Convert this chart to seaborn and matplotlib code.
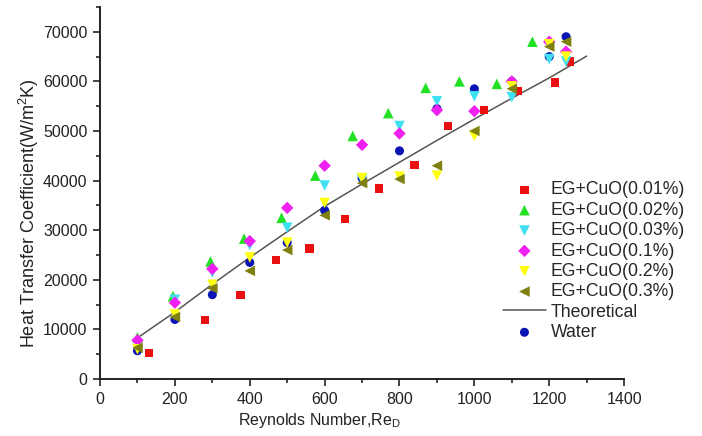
import matplotlib
matplotlib.use("Agg")
import matplotlib.pyplot as plt
import seaborn as sns
from matplotlib.ticker import MultipleLocator

sns.set_theme(style="ticks")
plt.rcParams['font.family'] = ['Liberation Sans', 'DejaVu Sans']

re_a = [100, 200, 300, 400, 500, 600, 700, 800, 900, 1000, 1100, 1200, 1245]
cuo001_x = [130, 280, 375, 470, 560, 655, 745, 840, 930, 1025, 1115, 1215, 1255]
cuo001_y = [5200, 11900, 17000, 24000, 26300, 32200, 38400, 43200, 51000, 54200, 58000, 59800, 64000]
cuo002_x = [100, 195, 295, 385, 485, 575, 675, 770, 870, 960, 1060, 1155]
cuo002_y = [8400, 16700, 23700, 28300, 32500, 41000, 49000, 53600, 58700, 60000, 59500, 68000]
cuo003_y = [7200, 16000, 21500, 27000, 30500, 39000, 40200, 51000, 56000, 57000, 56800, 64500, 64000]
cuo01_y = [7800, 15400, 22200, 27800, 34500, 43000, 47200, 49500, 54200, 54000, 60000, 68000, 66000]
cuo02_y = [6000, 13000, 19000, 24500, 27500, 35500, 40500, 40800, 41000, 49000, 59000, 67500, 65000]
cuo03_y = [6300, 12500, 18300, 21800, 26000, 33000, 39500, 40300, 43000, 50000, 58500, 67000, 68000]
water_y = [5700, 12000, 17000, 23500, 27500, 34000, 40500, 46000, 54500, 58500, 60000, 65000, 69000]

theo_x = [100, 200, 300, 400, 500, 600, 700, 800, 900, 1000, 1100, 1200, 1300]
theo_y = [8300, 13500, 19100, 24500, 29700, 34800, 39300, 43700, 48100, 52400, 56600, 60700, 65100]

labels = ["EG+CuO(0.01%)", "EG+CuO(0.02%)", "EG+CuO(0.03%)", "EG+CuO(0.1%)",
          "EG+CuO(0.2%)", "EG+CuO(0.3%)", "Water"]

fig = plt.figure(figsize=(7.02, 4.36), dpi=100)
ax = fig.add_axes([0.1425, 0.1307, 0.7465, 0.8533])

series = [
    (cuo001_x, cuo001_y, labels[0], "#e81010", "s", 36),
    (cuo002_x, cuo002_y, labels[1], "#22e022", "^", 58),
    (re_a, cuo003_y, labels[2], "#40e0f0", "v", 58),
    (re_a, cuo01_y, labels[3], "#f020f0", "D", 40),
    (re_a, cuo02_y, labels[4], "#ffff10", "v", 58),
    (re_a, cuo03_y, labels[5], "#808010", "<", 58),
]
for xs, ys, lab, col, mk, s in series:
    sns.scatterplot(x=xs, y=ys, ax=ax, color=col, marker=mk, s=s,
                    edgecolor="none", label=lab, zorder=3)

sns.lineplot(x=theo_x, y=theo_y, ax=ax, color="#555555", linewidth=1.1,
             label="Theoretical", zorder=2)
sns.scatterplot(x=re_a, y=water_y, ax=ax, color="#0a14b4", marker="o", s=42,
                edgecolor="none", label=labels[6], zorder=2.5)

ax.set_xlim(0, 1400)
ax.set_ylim(0, 75000)
ax.xaxis.set_major_locator(MultipleLocator(200))
ax.xaxis.set_minor_locator(MultipleLocator(100))
ax.set_yticks(range(0, 70001, 10000))
ax.yaxis.set_minor_locator(MultipleLocator(5000))
ax.tick_params(axis='both', which='major', length=5, width=1.2, labelsize=11.5,
               colors="#222222", direction='out', pad=4)
ax.tick_params(axis='both', which='minor', length=3, width=1.2, direction='out')
for side in ["top", "right"]:
    ax.spines[side].set_visible(False)
for side in ["left", "bottom"]:
    ax.spines[side].set_linewidth(1.4)
    ax.spines[side].set_color("#222222")

ax.set_xlabel("Reynolds Number,Re$_\\mathregular{D}$", fontsize=11.5, color="#222222")
ax.set_ylabel("Heat Transfer Coefficient(W/m$^\\mathregular{2}$K)", fontsize=13, color="#222222")
ax.xaxis.set_label_coords(0.418, -0.085)
ax.yaxis.set_label_coords(-0.112, 0.446)

ax.legend(loc="upper left", bbox_to_anchor=(0.756, 0.55), frameon=False,
          fontsize=12.7, handlelength=2.4, handletextpad=0.3, labelspacing=0.19,
          borderaxespad=0)

fig.savefig("out.png", dpi=100)
